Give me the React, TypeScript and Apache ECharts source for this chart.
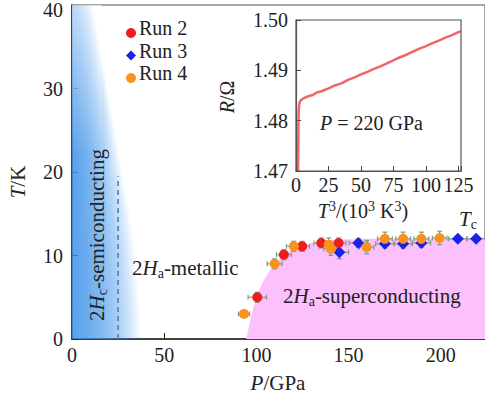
import React, { useEffect, useRef } from "react";
import * as echarts from "echarts";

// ---- Data ----
// Run 2 (red circles)
const P_RUN2 = [100.5, 114.9, 124.8, 135.2, 144.6];
const T_RUN2 = [5.0, 10.1, 11.1, 11.5, 11.5];
const PERR_RUN2 = [5, 4, 4, 4, 4];
const TERR_RUN2 = [0.6, 0.6, 0.6, 0.6, 0.6];
// Run 3 (blue diamonds)
const P_RUN3 = [145.0, 155.3, 169.7, 179.6, 189.5, 209.3, 219.2];
const T_RUN3 = [10.4, 11.5, 11.4, 11.4, 11.5, 12.0, 12.0];
const PERR_RUN3 = [5, 5, 5, 5, 5, 5, 5];
const TERR_RUN3 = [0.8, 0.5, 0.5, 0.5, 0.5, 0.3, 0.3];
// Run 4 (orange circles)
const P_RUN4 = [93.3, 109.9, 120.3, 139.2, 140.5, 159.8, 169.7, 179.6, 189.5, 199.4];
const T_RUN4 = [3.0, 9.0, 11.1, 11.3, 10.8, 11.0, 12.0, 12.0, 12.0, 12.1];
const PERR_RUN4 = [3, 4, 4, 4, 4, 4, 4, 4, 4, 4];
const TERR_RUN4 = [0.4, 0.6, 0.6, 0.8, 0.8, 0.8, 0.8, 0.8, 0.8, 0.8];

const RUN_NAMES = ["Run 2", "Run 3", "Run 4"];

// Tc boundary (pink superconducting region)
const TC_P = [94.5, 95.5, 97.5, 100, 104, 110, 115, 120, 130, 140, 160, 190, 224];
const TC_T = [0, 1, 3, 5, 7, 9, 10, 10.8, 11.5, 11.8, 12.0, 12.05, 12.1];

// 2Hc semiconducting boundary (blue region)
const BLUE_T = [0, 5, 10, 15, 20, 25, 30, 35, 40];
const BLUE_P = [37, 36, 34, 31, 27, 23, 19, 15, 11];

// Dashed line at P = 25 GPa
const DASH_P = [25, 25];
const DASH_T = [0, 19.5];

// Inset R vs T^3 at 220 GPa
const INSET_X = [1.6, 1.7, 1.8, 2.0, 2.3, 2.8, 3.5, 5, 7, 10, 13, 16, 20, 25, 30, 35, 40, 45, 50, 55, 60, 65, 70, 75, 80, 85, 90, 95, 100, 105, 110, 115, 120, 125, 127];
const INSET_R = [1.4700, 1.4740, 1.4780, 1.4812, 1.4828, 1.4836, 1.4840, 1.4843, 1.4846, 1.4849, 1.4851, 1.4856, 1.4859, 1.4864, 1.4870, 1.4874, 1.4881, 1.4886, 1.4892, 1.4897, 1.4903, 1.4908, 1.4914, 1.4920, 1.4926, 1.4931, 1.4937, 1.4943, 1.4948, 1.4954, 1.4959, 1.4965, 1.4970, 1.4976, 1.4978];

// Tick labels
const X_TICKS = [0, 50, 100, 150, 200];
const Y_TICKS = [0, 10, 20, 30, 40];
const INSET_X_TICKS = [0, 25, 50, 75, 100, 125];
const INSET_Y_TICKS = ["1.47", "1.48", "1.49", "1.50"];

const SERIF = "Liberation Serif";

function rows(p: number[], t: number[], ep: number[], et: number[]) {
  return p.map((v, i) => [v, t[i], ep[i], et[i]]);
}

function errRender(params: any, api: any) {
  const p = api.value(0), t = api.value(1), ep = api.value(2), et = api.value(3);
  const l = api.coord([p - ep, t]);
  const r = api.coord([p + ep, t]);
  const b = api.coord([p, t - et]);
  const tp = api.coord([p, t + et]);
  const c = 2.5;
  const st = { stroke: "#7a9e84", lineWidth: 1.2 };
  const ln = (x1: number, y1: number, x2: number, y2: number) => ({
    type: "line", shape: { x1, y1, x2, y2 }, style: st,
  });
  return {
    type: "group",
    children: [
      ln(l[0], l[1], r[0], r[1]),
      ln(l[0], l[1] - c, l[0], l[1] + c),
      ln(r[0], r[1] - c, r[0], r[1] + c),
      ln(b[0], b[1], tp[0], tp[1]),
      ln(b[0] - c, b[1], b[0] + c, b[1]),
      ln(tp[0] - c, tp[1], tp[0] + c, tp[1]),
    ],
  };
}

function blueRender(params: any, api: any) {
  const layers = 32;
  const children: any[] = [];
  for (let k = layers; k >= 1; k--) {
    const f = Math.pow(k / layers, 1.2);
    const pts: number[][] = [api.coord([0, BLUE_T[0]])];
    for (let i = 0; i < BLUE_T.length; i++) pts.push(api.coord([BLUE_P[i] * f, BLUE_T[i]]));
    pts.push(api.coord([0, BLUE_T[BLUE_T.length - 1]]));
    children.push({
      type: "polygon",
      shape: { points: pts },
      style: { fill: "rgba(60,160,240,0.058)" },
    });
  }
  const a = api.coord([0, 40]);
  const bb = api.coord([16, 22]);
  children.push({
    type: "rect",
    shape: { x: a[0], y: a[1], width: bb[0] - a[0], height: bb[1] - a[1] },
    style: {
      fill: new echarts.graphic.LinearGradient(0, 0, 0, 1, [
        { offset: 0, color: "rgba(255,255,255,0.6)" },
        { offset: 1, color: "rgba(255,255,255,0)" },
      ]),
    },
  });
  return { type: "group", children };
}

const richBase = {
  n: { fontFamily: SERIF, fontSize: 21, color: "#222", lineHeight: 24 },
  i: { fontFamily: SERIF, fontSize: 21, fontStyle: "italic", color: "#222", lineHeight: 24 },
  s: { fontFamily: SERIF, fontSize: 14, color: "#222", lineHeight: 12, verticalAlign: "bottom" },
  u: { fontFamily: SERIF, fontSize: 14, color: "#222", lineHeight: 12, verticalAlign: "top" },
  ti: { fontFamily: SERIF, fontSize: 20, fontStyle: "italic", color: "#222", lineHeight: 24 },
  tn: { fontFamily: SERIF, fontSize: 20, color: "#222", lineHeight: 24 },
  mi: { fontFamily: SERIF, fontSize: 21, fontStyle: "italic", color: "#e020e0", lineHeight: 24 },
  ms: { fontFamily: SERIF, fontSize: 14, color: "#e020e0", lineHeight: 12, verticalAlign: "bottom" },
};

function txt(x: number, y: number, text: string, opts: any = {}) {
  return {
    type: "text",
    x, y,
    rotation: opts.rotation || 0,
    z: 100,
    style: {
      text,
      rich: richBase,
      font: "20px Liberation Serif",
      align: opts.align || "center",
      verticalAlign: "middle",
      fill: "#222",
    },
  };
}

// single-style text written as two rich pieces so that it takes the serif face
function ptxt(x: number, y: number, s: string, align: string = "center") {
  const head = s.slice(0, 1);
  const tail = s.slice(1) || "\u200B";
  return txt(x, y, "{tn|" + head + "}{tn|" + tail + "}", { align });
}

export default function App() {
  const ref = useRef<HTMLDivElement>(null);
  useEffect(() => {
    document.body.style.margin = "0";
    if (!ref.current) return;
    const chart = echarts.init(ref.current, undefined, { renderer: "svg" });
    const option: any = {
      animation: false,
      backgroundColor: "#fff",
      grid: [
        { left: 72, right: -2.7, top: 5, bottom: 61, show: true, borderColor: "#888", borderWidth: 1.5, backgroundColor: "transparent" },
        { left: 296, right: 24, top: 20, bottom: 229, show: true, borderColor: "#555", borderWidth: 1.2, backgroundColor: "#fff" },
      ],
      xAxis: [
        {
          type: "value", gridIndex: 0, min: 0, max: 224, interval: 50,
          axisLine: { lineStyle: { color: "#222", width: 1.5 } },
          axisTick: { inside: true, length: 6, lineStyle: { color: "#222" } },
          axisLabel: { show: false },
          splitLine: { show: false },
        },
        {
          type: "value", gridIndex: 1, min: 0, max: 127, interval: 25,
          axisLine: { lineStyle: { color: "#555", width: 1.2 } },
          axisTick: { inside: true, length: 5, lineStyle: { color: "#444" } },
          axisLabel: { show: false },
          splitLine: { show: false },
        },
      ],
      yAxis: [
        {
          type: "value", gridIndex: 0, min: 0, max: 40, interval: 10,
          axisLine: { lineStyle: { color: "#222", width: 1.5 } },
          axisTick: { inside: true, length: 6, lineStyle: { color: "#222" } },
          axisLabel: { show: false },
          splitLine: { show: false },
        },
        {
          type: "value", gridIndex: 1, min: 1.47, max: 1.5, interval: 0.01,
          axisLine: { lineStyle: { color: "#555", width: 1.2 } },
          axisTick: { inside: true, length: 5, lineStyle: { color: "#444" } },
          axisLabel: { show: false },
          splitLine: { show: false },
        },
      ],
      legend: {
        data: RUN_NAMES,
        orient: "vertical",
        left: 121, top: 23,
        itemWidth: 10, itemHeight: 10, itemGap: 12.5,
        formatter: () => "",
        textStyle: { fontSize: 1, padding: 0, lineHeight: 1 },
      },
      series: [
        {
          type: "custom", name: "blue", xAxisIndex: 0, yAxisIndex: 0,
          data: [[0, 0]], renderItem: blueRender, silent: true, z: 1,
        },
        {
          type: "line", name: "Tc", xAxisIndex: 0, yAxisIndex: 0,
          data: TC_P.map((p, i) => [p, TC_T[i]]),
          showSymbol: false, smooth: 0.3,
          lineStyle: { width: 0 },
          areaStyle: { color: "#fcc0fc", opacity: 1 },
          z: 2,
        },
        {
          type: "line", name: "dash", xAxisIndex: 0, yAxisIndex: 0,
          data: DASH_P.map((p, i) => [p, DASH_T[i]]),
          showSymbol: false,
          lineStyle: { color: "#4d80b0", width: 1.6, type: [5, 4] },
          z: 3,
        },
        ...[
          rows(P_RUN2, T_RUN2, PERR_RUN2, TERR_RUN2),
          rows(P_RUN3, T_RUN3, PERR_RUN3, TERR_RUN3),
          rows(P_RUN4, T_RUN4, PERR_RUN4, TERR_RUN4),
        ].map((d) => ({
          type: "custom", xAxisIndex: 0, yAxisIndex: 0, data: d,
          renderItem: errRender, encode: { x: 0, y: 1 }, z: 4, silent: true,
        })),
        {
          type: "scatter", name: RUN_NAMES[0], xAxisIndex: 0, yAxisIndex: 0,
          data: P_RUN2.map((p, i) => [p, T_RUN2[i]]),
          symbol: "circle", symbolSize: 10, itemStyle: { color: "#ee1c1c", opacity: 1 }, z: 6,
        },
        {
          type: "scatter", name: RUN_NAMES[1], xAxisIndex: 0, yAxisIndex: 0,
          data: P_RUN3.map((p, i) => [p, T_RUN3[i]]),
          symbol: "diamond", symbolSize: 12, itemStyle: { color: "#1a22e6", opacity: 1 }, z: 5,
        },
        {
          type: "scatter", name: RUN_NAMES[2], xAxisIndex: 0, yAxisIndex: 0,
          data: P_RUN4.map((p, i) => [p, T_RUN4[i]]),
          symbol: "circle", symbolSize: 10, itemStyle: { color: "#f7931e", opacity: 1 }, z: 6,
        },
        {
          type: "line", name: "inset", xAxisIndex: 1, yAxisIndex: 1,
          data: INSET_X.map((x, i) => [x, INSET_R[i]]),
          showSymbol: false,
          lineStyle: { color: "rgba(236,50,50,0.75)", width: 2.5 },
          z: 10,
        },
      ],
    };
    chart.setOption(option);

    const g: any[] = [
      txt(18, 182, "{i|T}{n|/K}", { rotation: Math.PI / 2 }),
      txt(278, 383, "{i|P}{n|/GPa}"),
      txt(97, 235, "{n|2}{i|H}{s|c}{n|-semiconducting}", { rotation: Math.PI / 2 }),
      txt(132, 268, "{n|2}{i|H}{s|a}{n|-metallic}", { align: "left" }),
      txt(283, 296, "{n|2}{i|H}{s|a}{n|-superconducting}", { align: "left" }),
      txt(468, 219, "{mi|T}{ms|c}"),
      txt(320, 123, "{ti|P}{tn| = 220 GPa}", { align: "left" }),
      txt(363, 211, "{ti|T}{u|3}{tn|/(10}{u|3}{tn| K}{u|3}{tn|)}"),
      txt(227, 97, "{ti|R}{tn|/Ω}", { rotation: Math.PI / 2 }),
    ];
    // tick labels placed through the axes' own scales
    const main = { xAxisIndex: 0, yAxisIndex: 0 };
    const ins = { xAxisIndex: 1, yAxisIndex: 1 };
    const x0 = chart.convertToPixel(main, [0, 0]) as number[];
    X_TICKS.forEach((v) => {
      const p = chart.convertToPixel(main, [v, 0]) as number[];
      g.push(ptxt(p[0], p[1] + 16, String(v)));
    });
    Y_TICKS.forEach((v) => {
      const p = chart.convertToPixel(main, [0, v]) as number[];
      g.push(ptxt(x0[0] - 9, Math.max(p[1], 10), String(v), "right"));
    });
    const i0 = chart.convertToPixel(ins, [0, 1.47]) as number[];
    INSET_X_TICKS.forEach((v) => {
      const p = chart.convertToPixel(ins, [v, 1.47]) as number[];
      g.push(ptxt(p[0], p[1] + 14, String(v)));
    });
    INSET_Y_TICKS.forEach((s) => {
      const p = chart.convertToPixel(ins, [0, parseFloat(s)]) as number[];
      g.push(ptxt(i0[0] - 8, p[1], s, "right"));
    });
    // legend names beside the legend's own symbols
    RUN_NAMES.forEach((name, k) => {
      g.push(ptxt(139, 28 + k * 22.5, name, "left"));
    });
    chart.setOption({ graphic: g });
    return () => chart.dispose();
  }, []);
  return <div ref={ref} style={{ width: 485, height: 400, position: "absolute", left: 0, top: 0 }} />;
}
